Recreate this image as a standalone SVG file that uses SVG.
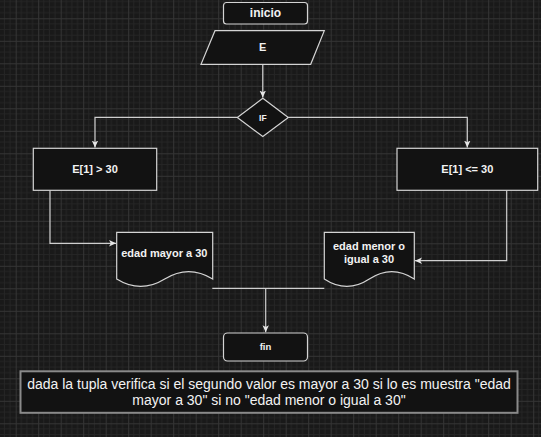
<svg xmlns="http://www.w3.org/2000/svg" width="541" height="437" viewBox="0 0 541 437">
<style>
.node{fill:#121212;stroke:#d4d4d4;stroke-width:1.2}
.t{font-family:"Liberation Sans",Arial,sans-serif;font-weight:bold;fill:#f2f2f2;text-anchor:middle}
.edge{fill:none;stroke:#cfcfcf;stroke-width:1.2}
.note{fill:#121212;stroke:#8a8a8a;stroke-width:2}
.nt{font-family:"Liberation Sans",Arial,sans-serif;font-size:14px;fill:#f2f2f2;text-anchor:middle}
</style>
<defs>
<pattern id="grid" patternUnits="userSpaceOnUse" x="15.7" y="18.3" width="22.5" height="22.5">
<rect width="22.5" height="22.5" fill="#191919"/>
<path d="M5.625,0V22.5M11.25,0V22.5M16.875,0V22.5M0,5.625H22.5M0,11.25H22.5M0,16.875H22.5" stroke="#252525" stroke-width="1"/>
<path d="M0.5,0V22.5M0,0.5H22.5" stroke="#353535" stroke-width="1"/>
</pattern>
<marker id="arr" markerUnits="userSpaceOnUse" markerWidth="8" markerHeight="8" refX="7" refY="4" orient="auto">
<path d="M0,0.8L7,4L0,7.2L1.8,4Z" fill="#e6e6e6"/>
</marker>
</defs>
<rect width="541" height="437" fill="url(#grid)"/>

<g id="connectors">
<path class="edge" d="M262.75,64.3V97.5" marker-end="url(#arr)"/>
<path class="edge" d="M237.3,117.3H95V147.5" marker-end="url(#arr)"/>
<path class="edge" d="M288.3,117.3H467.3V147.5" marker-end="url(#arr)"/>
<path class="edge" d="M50,190.3V243.3H116" marker-end="url(#arr)"/>
<path class="edge" d="M506.7,190.3V260.7H415" marker-end="url(#arr)"/>
<path class="edge" d="M212.3,288.3H324.3"/>
<path class="edge" d="M265.7,288.3V332.3" marker-end="url(#arr)"/>
</g>

<g id="inicio">
<rect class="node" x="223.5" y="2.5" width="84" height="21.5" rx="3"/>
<text class="t" x="265.5" y="17.3" font-size="12">inicio</text>
</g>

<g id="entrada">
<path class="node" d="M215,30.7H324.3L310.7,64.3H201Z"/>
<text class="t" x="262.75" y="51" font-size="11">E</text>
</g>

<g id="if">
<path class="node" d="M262.8,98.3L288.3,117.4L262.8,136.6L237.3,117.4Z"/>
<text class="t" x="262.8" y="120.5" font-size="8.5">IF</text>
</g>

<g id="mayor">
<rect class="node" x="33.3" y="148.3" width="123.4" height="42"/>
<text class="t" x="95" y="173" font-size="11">E[1] &gt; 30</text>
</g>

<g id="menor">
<rect class="node" x="397" y="148.3" width="140.7" height="42"/>
<text class="t" x="467.3" y="173" font-size="11">E[1] &lt;= 30</text>
</g>

<g id="doc-mayor">
<path class="node" d="M116.7,232.3H212.7V279.05Q188.7,264.2 164.7,279.05Q140.7,293.9 116.7,279.05Z"/>
<text class="t" x="164.3" y="256.6" font-size="11">edad mayor a 30</text>
</g>

<g id="doc-menor">
<path class="node" d="M324.3,232.3H414.3V279.05Q391.8,264.2 369.3,279.05Q346.8,293.9 324.3,279.05Z"/>
<text class="t" x="369" y="249.6" font-size="11">edad menor o</text>
<text class="t" x="369" y="263" font-size="11">igual a 30</text>
</g>

<g id="fin">
<rect class="node" x="223.5" y="333" width="84" height="28" rx="4"/>
<text class="t" x="265.5" y="350.2" font-size="9.5">fin</text>
</g>

<g id="nota">
<rect class="note" x="20.5" y="371.3" width="497" height="41.5"/>
<text class="nt" x="269" y="388.5">dada la tupla verifica si el segundo valor es mayor a 30 si lo es muestra "edad</text>
<text class="nt" x="269" y="405">mayor a 30" si no "edad menor o igual a 30"</text>
</g>
</svg>
